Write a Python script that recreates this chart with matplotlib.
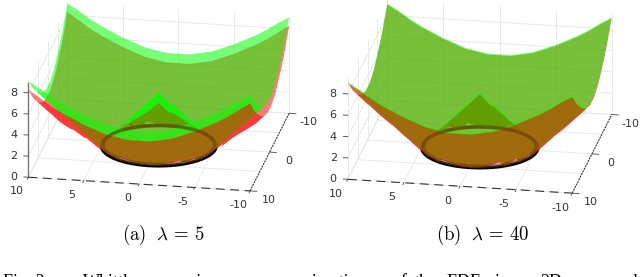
import matplotlib
matplotlib.use('Agg')
import matplotlib.pyplot as plt
from matplotlib.patches import PathPatch
from matplotlib.path import Path
from mpl_toolkits.mplot3d import proj3d
import numpy as np

# heights, one quadrant, x (columns) and y (rows) = 0..10
grid_pos = [0, 1, 2, 3, 4, 5, 6, 7, 8, 9, 10]
green_z = [
    [5.0, 4.0, 3.0, 2.0, 1.0, 0.0, 1.0, 2.0, 3.0, 4.0, 5.0],
    [4.0, 3.6, 2.8, 1.8, 0.9, 0.1, 1.1, 2.1, 3.1, 4.1, 5.0],
    [3.0, 2.8, 2.2, 1.4, 0.5, 0.4, 1.3, 2.3, 3.2, 4.2, 5.2],
    [2.0, 1.8, 1.4, 0.8, 0.0, 0.8, 1.7, 2.6, 3.5, 4.5, 5.4],
    [1.0, 0.9, 0.5, 0.0, 0.7, 1.4, 2.2, 3.1, 3.9, 4.8, 5.8],
    [0.0, 0.1, 0.4, 0.8, 1.4, 2.1, 2.8, 3.6, 4.4, 5.3, 6.2],
    [1.0, 1.1, 1.3, 1.7, 2.2, 2.8, 3.5, 4.2, 5.0, 5.8, 6.7],
    [2.0, 2.1, 2.3, 2.6, 3.1, 3.6, 4.2, 4.9, 5.6, 6.4, 7.2],
    [3.0, 3.1, 3.2, 3.5, 3.9, 4.4, 5.0, 5.6, 6.3, 7.0, 7.8],
    [4.0, 4.1, 4.2, 4.5, 4.8, 5.3, 5.8, 6.4, 7.0, 7.7, 8.5],
    [5.0, 5.0, 5.2, 5.4, 5.8, 6.2, 6.7, 7.2, 7.8, 8.5, 9.1],
]
# red surface of panel (a), under the green one by up to about 1
red_z_a = [
    [4.0, 3.1, 2.4, 1.6, 0.8, 0.0, 0.8, 1.6, 2.4, 3.1, 4.1],
    [3.1, 2.8, 2.2, 1.4, 0.7, 0.1, 0.9, 1.7, 2.5, 3.2, 4.1],
    [2.4, 2.2, 1.7, 1.1, 0.4, 0.3, 1.0, 1.9, 2.6, 3.3, 4.3],
    [1.6, 1.4, 1.1, 0.6, 0.0, 0.6, 1.4, 2.1, 2.8, 3.6, 4.5],
    [0.8, 0.7, 0.4, 0.0, 0.5, 1.1, 1.8, 2.5, 3.1, 3.9, 4.9],
    [0.0, 0.1, 0.3, 0.6, 1.1, 1.7, 2.2, 2.9, 3.5, 4.4, 5.3],
    [0.8, 0.9, 1.0, 1.4, 1.8, 2.2, 2.8, 3.4, 4.1, 4.9, 5.8],
    [1.6, 1.7, 1.9, 2.1, 2.5, 2.9, 3.4, 4.0, 4.7, 5.5, 6.3],
    [2.4, 2.5, 2.6, 2.8, 3.1, 3.5, 4.1, 4.7, 5.4, 6.1, 6.9],
    [3.1, 3.2, 3.3, 3.6, 3.9, 4.4, 4.9, 5.5, 6.1, 6.8, 7.6],
    [4.1, 4.1, 4.3, 4.5, 4.9, 5.3, 5.8, 6.3, 6.9, 7.6, 8.3],
]
red_gap_b = 0.1

ring_radius = 5.1
wall_lines = [-10, -5, 0, 5, 10]
x_ticks = [10, 5, 0, -5, -10]
y_ticks = [-10, 0, 10]
z_ticks = [0, 2, 4, 6, 8]
captions = [r'$\mathrm{(a)}\ \ \lambda\,=\,5$', r'$\mathrm{(b)}\ \ \lambda\,=\,40$']
foot_words = ['Fig. 2:', 'Whittle', 'regression', 'approximation', 'of', 'the', 'EDF', 'in', 'a', '2D', 'example']
foot_x = [3, 83, 146, 262, 392, 415, 447, 495, 515, 540, 585]

plt.rcParams['mathtext.fontset'] = 'cm'

RED = (1, 0, 0, 0.52)
GREEN = (0, 1, 0, 0.53)
VIEW = np.array([-0.163, 0.923, 0.350])


class FlatPatch(PathPatch):
    # already projected, 3d axes only needs the method to exist
    def do_3d_projection(self):
        return 0


def mirror(z):
    z = np.array(z)
    top = np.hstack([z[:, :0:-1], z])
    return np.vstack([top[:0:-1], top])


def quad(xs, zz, i, j):
    return np.array([(xs[j], xs[i], zz[i, j]),
                     (xs[j + 1], xs[i], zz[i, j + 1]),
                     (xs[j + 1], xs[i + 1], zz[i + 1, j + 1]),
                     (xs[j], xs[i + 1], zz[i + 1, j])])


def faces_camera(p):
    n = np.cross(p[1] - p[0], p[3] - p[0]) + np.cross(p[3] - p[2], p[1] - p[2])
    return n.dot(VIEW) > 0


def add_layer(ax, polys, color, order):
    # one compound path per layer, so the alpha has no seams between faces
    if not polys:
        return
    verts = []
    codes = []
    M = ax.get_proj()
    for p in polys:
        px, py, _ = proj3d.proj_transform(p[:, 0], p[:, 1], p[:, 2], M)
        verts += list(zip(px, py)) + [(px[0], py[0])]
        codes += [Path.MOVETO, Path.LINETO, Path.LINETO, Path.LINETO, Path.CLOSEPOLY]
    ax.add_patch(FlatPatch(Path(verts, codes), facecolor=color, edgecolor='none', lw=0, zorder=order))


def draw_surfaces(ax, xs, red, green):
    groups = {}
    for i in range(len(xs) - 1):
        for j in range(len(xs) - 1):
            pg = quad(xs, green, i, j)
            inside = np.hypot(pg[:, 0].mean(), pg[:, 1].mean()) < 5.0
            key = (inside, faces_camera(pg))
            groups.setdefault(key, ([], []))
            groups[key][0].append(quad(xs, red, i, j))
            groups[key][1].append(pg)
    # back to front: outer back slope, cone back, cone front, outer front slope
    sequence = [(False, True), (True, False), (True, True), (False, False)]
    order = 10
    for key in sequence:
        if key not in groups:
            continue
        reds, greens = groups[key]
        if key[1]:
            add_layer(ax, reds, RED, order)
            add_layer(ax, greens, GREEN, order + 1)
        else:
            add_layer(ax, greens, GREEN, order)
            add_layer(ax, reds, RED, order + 1)
        order += 2


def draw_panel(cx, cy, zoom, z_top, red, green, z_line):
    side = 500
    ax = fig.add_axes([(cx - side / 2) / 640, 1 - (cy + side / 2) / 277, side / 640, side / 277],
                      projection='3d', proj_type='ortho', computed_zorder=False)
    ax.view_init(elev=20.5, azim=100)
    ax.set_xlim(-10, 10)
    ax.set_ylim(-10, 10)
    ax.set_zlim(0, z_top)
    ax.set_box_aspect((20, 20, z_top), zoom=zoom)
    ax.set_axis_off()
    ax.patch.set_alpha(0)

    grid = dict(color='#e6e6e6', lw=0.6, zorder=1)
    for v in wall_lines:
        ax.plot([v, v], [-10, 10], [0, 0], **grid)
        ax.plot([v, v], [-10, -10], [0, z_top], **grid)
        ax.plot([-10, 10], [v, v], [0, 0], **grid)
        ax.plot([10, 10], [v, v], [0, z_top], **grid)
    for v in z_ticks:
        ax.plot([-10, 10], [-10, -10], [v, v], **grid)
        ax.plot([10, 10], [-10, 10], [v, v], **grid)

    tick = dict(color='#444444', lw=0.6, zorder=2)
    ax.plot([10, -10], [10, 10], [0, 0], color='#333333', lw=0.8, ls=(0, (8, 5)), zorder=2)
    ax.plot([-10, -10], [10, -10], [0, 0], color='#222222', lw=0.7, ls=(0, (2, 1)), zorder=2)
    if z_line:
        ax.plot([10, 10], [10, 10], [0, 8.9], color='#777777', lw=1.0, zorder=2)
    style = dict(fontsize=8, ha='center', va='center', color='#333333')
    for v in x_ticks:
        ax.plot([v, v], [10, 10.5], [0, 0], **tick)
        ax.text(v, 16, 0.86, str(v), **style)
    for v in y_ticks:
        ax.plot([-10, -10.6], [v, v], [0, 0], **tick)
        ax.text(-11.7, v, -0.75, str(v), **style)
    for v in z_ticks:
        ax.plot([10, 10.4], [10, 10], [v, v], **tick)
        ax.text(11.3, 10, v - 0.09, str(v), **style)

    # black ring under the surfaces, brown rim seen through them on top
    theta = np.linspace(0, 2 * np.pi, 120)
    cx_ring = ring_radius * np.cos(theta)
    cy_ring = ring_radius * np.sin(theta)
    ax.plot(cx_ring, cy_ring, 0 * theta - 0.05, color='black', lw=2.4, zorder=3)

    xs = np.concatenate([-np.array(grid_pos[:0:-1], dtype=float), np.array(grid_pos, dtype=float)])
    draw_surfaces(ax, xs, mirror(red), mirror(green))
    ax.plot(cx_ring * 0.97, cy_ring * 0.97, 0 * theta + 0.05, color='#6b3f12', alpha=0.6, lw=2.4, zorder=40)
    return ax


fig = plt.figure(figsize=(6.4, 2.77), dpi=100)
draw_panel(152, 103.5, 0.65, 9.2, red_z_a, green_z, True)
draw_panel(473, 103, 0.66, 9.5, np.array(green_z) - red_gap_b, green_z, False)
fig.text(163 / 640, 1 - 235 / 277, captions[0], fontsize=13.5, ha='center', va='center')
fig.text(483 / 640, 1 - 235 / 277, captions[1], fontsize=13.5, ha='center', va='center')
for word, x in zip(foot_words, foot_x):
    fig.text(x / 640, 1 - 287 / 277, word, fontsize=13, family='Liberation Serif', ha='left', va='baseline')
fig.savefig('out.png', dpi=100)
